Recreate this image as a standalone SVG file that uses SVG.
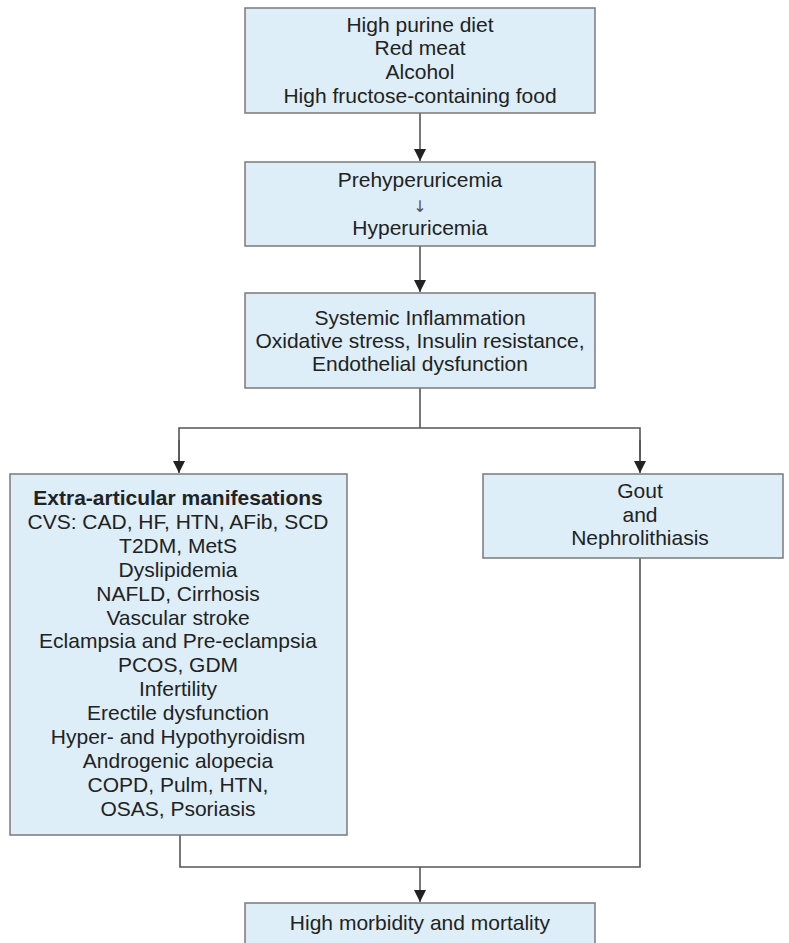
<svg xmlns="http://www.w3.org/2000/svg" width="789" height="943" viewBox="0 0 789 943">
<style>
.box{fill:#ddeef8;stroke:#7a7a7a;stroke-width:1.5}
.t{font-family:"Liberation Sans",Arial,sans-serif;font-size:21px;fill:#222;text-anchor:middle}
.b{font-weight:bold}
.ar{font-family:"DejaVu Sans",sans-serif;font-size:16px;fill:#555;text-anchor:middle}
.ln{fill:none;stroke:#555;stroke-width:1.6}
</style>
<defs>
<marker id="ah" viewBox="0 0 12 12" refX="12" refY="6" markerWidth="12" markerHeight="12" markerUnits="userSpaceOnUse" orient="auto">
<path d="M0,0 L12,6 L0,12 z" fill="#222"/>
</marker>
</defs>
<rect width="789" height="943" fill="#fff"/>
<g id="connectors">
<line class="ln" x1="420" y1="113" x2="420" y2="161" marker-end="url(#ah)"/>
<line class="ln" x1="420" y1="246" x2="420" y2="292" marker-end="url(#ah)"/>
<polyline class="ln" points="420,388 420,428"/>
<polyline class="ln" points="179,462 179,428 640,428 640,462"/>
<line class="ln" x1="179" y1="440" x2="179" y2="473" marker-end="url(#ah)"/>
<line class="ln" x1="640" y1="440" x2="640" y2="473" marker-end="url(#ah)"/>
<polyline class="ln" points="180,835 180,867 640,867 640,558"/>
<line class="ln" x1="420" y1="867" x2="420" y2="902" marker-end="url(#ah)"/>
</g>
<g id="n1">
<rect class="box" x="245" y="8" width="350" height="105"/>
<text class="t" x="420" y="32">High purine diet</text>
<text class="t" x="420" y="55">Red meat</text>
<text class="t" x="420" y="79">Alcohol</text>
<text class="t" x="420" y="103">High fructose-containing food</text>
</g>
<g id="n2">
<rect class="box" x="245" y="162" width="350" height="84"/>
<text class="t" x="420" y="187">Prehyperuricemia</text>
<text class="ar" x="420" y="212">↓</text>
<text class="t" x="420" y="235">Hyperuricemia</text>
</g>
<g id="n3">
<rect class="box" x="245" y="293" width="350" height="95"/>
<text class="t" x="420" y="325">Systemic Inflammation</text>
<text class="t" x="420" y="348">Oxidative stress, Insulin resistance,</text>
<text class="t" x="420" y="371">Endothelial dysfunction</text>
</g>
<g id="n4">
<rect class="box" x="10" y="474" width="337" height="361"/>
<text class="t b" x="178" y="505">Extra-articular manifesations</text>
<text class="t" x="178" y="529">CVS: CAD, HF, HTN, AFib, SCD</text>
<text class="t" x="178" y="553">T2DM, MetS</text>
<text class="t" x="178" y="577">Dyslipidemia</text>
<text class="t" x="178" y="601">NAFLD, Cirrhosis</text>
<text class="t" x="178" y="625">Vascular stroke</text>
<text class="t" x="178" y="648">Eclampsia and Pre-eclampsia</text>
<text class="t" x="178" y="672">PCOS, GDM</text>
<text class="t" x="178" y="696">Infertility</text>
<text class="t" x="178" y="720">Erectile dysfunction</text>
<text class="t" x="178" y="744">Hyper- and Hypothyroidism</text>
<text class="t" x="178" y="768">Androgenic alopecia</text>
<text class="t" x="178" y="792">COPD, Pulm, HTN,</text>
<text class="t" x="178" y="816">OSAS, Psoriasis</text>
</g>
<g id="n5">
<rect class="box" x="483" y="474" width="300" height="84"/>
<text class="t" x="640" y="498">Gout</text>
<text class="t" x="640" y="522">and</text>
<text class="t" x="640" y="545">Nephrolithiasis</text>
</g>
<g id="n6">
<rect class="box" x="245" y="903" width="350" height="48"/>
<text class="t" x="420" y="930">High morbidity and mortality</text>
</g>
</svg>
